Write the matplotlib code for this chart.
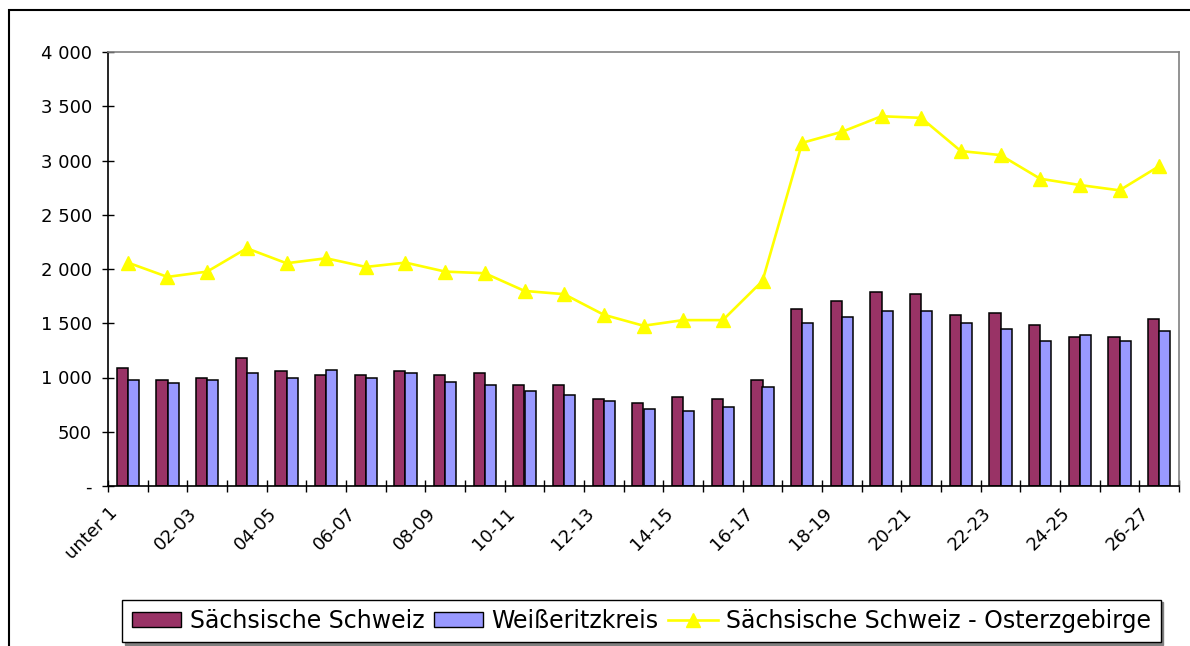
import matplotlib
matplotlib.use("Agg")
import matplotlib.pyplot as plt
import matplotlib.transforms as mtransforms
from matplotlib.patches import Rectangle
from matplotlib.lines import Line2D
import numpy as np

plt.rcParams['font.family'] = ['DejaVu Sans']

categories = ["unter 1", "01-02", "02-03", "03-04", "04-05", "05-06", "06-07",
              "07-08", "08-09", "09-10", "10-11", "11-12", "12-13", "13-14",
              "14-15", "15-16", "16-17", "17-18", "18-19", "19-20", "20-21",
              "21-22", "22-23", "23-24", "24-25", "25-26", "26-27"]

saechsische_schweiz = [1087, 980, 998, 1182, 1056, 1019, 1019, 1056, 1019, 1038,
                       927, 927, 802, 765, 817, 802, 980, 1631, 1702, 1791,
                       1773, 1573, 1594, 1484, 1377, 1377, 1536]
weisseritzkreis = [980, 946, 980, 1038, 998, 1072, 998, 1038, 961, 927,
                   872, 835, 784, 710, 695, 725, 909, 1502, 1558, 1610,
                   1610, 1502, 1447, 1337, 1396, 1337, 1429]
ss_osterzgebirge = [2059, 1927, 1976, 2191, 2053, 2099, 2019, 2059, 1976, 1961,
                    1798, 1768, 1578, 1477, 1529, 1529, 1890, 3163, 3264, 3408,
                    3393, 3087, 3050, 2832, 2774, 2725, 2948]

series_names = ["Sächsische Schweiz", "Weißeritzkreis",
                "Sächsische Schweiz - Osterzgebirge"]

y_ticks = [0, 500, 1000, 1500, 2000, 2500, 3000, 3500, 4000]
y_tick_labels = ["-", "500", "1 000", "1 500", "2 000", "2 500", "3 000",
                 "3 500", "4 000"]

C_MAROON = "#993366"
C_BLUE = "#9999FF"
C_YELLOW = "#FFFF00"

W, H = 1190, 646
fig = plt.figure(figsize=(W / 100, H / 100), dpi=100)
fig.patch.set_facecolor("white")

ax = fig.add_axes([108 / W, 1 - 486 / H, (1179 - 108) / W, (486 - 52) / H])

x = np.arange(len(categories))
bw = 0.285
ax.bar(x - bw / 2, saechsische_schweiz, width=bw, color=C_MAROON,
       edgecolor="black", linewidth=1.1, zorder=2)
ax.bar(x + bw / 2, weisseritzkreis, width=bw, color=C_BLUE,
       edgecolor="black", linewidth=1.1, zorder=2)
ax.plot(x, ss_osterzgebirge, color=C_YELLOW, linewidth=1.9, marker="^",
        markersize=9.5, markerfacecolor=C_YELLOW, markeredgecolor=C_YELLOW,
        zorder=3)

ax.set_xlim(-0.5, len(categories) - 0.5)
ax.set_ylim(0, 4000)

ax.set_yticks(y_ticks)
ax.set_yticklabels(y_tick_labels, fontsize=13)
ax.tick_params(axis="y", direction="inout", length=9, width=1.0, pad=7,
               colors="black")

label_idx = x[::2]
ax.set_xticks(label_idx)
ax.set_xticklabels([categories[i] for i in label_idx], fontsize=13,
                   rotation=45, ha="right", va="top", rotation_mode="anchor")
ax.tick_params(axis="x", which="major", length=0, pad=13)
ax.set_xticks(np.arange(-0.5, len(categories), 1.0), minor=True)
ax.tick_params(axis="x", which="minor", direction="inout", length=9, width=1.0)
offset = mtransforms.ScaledTranslation(-19 / 100, 0, fig.dpi_scale_trans)
for lbl in ax.get_xticklabels():
    lbl.set_transform(lbl.get_transform() + offset)

for side in ("left", "bottom"):
    ax.spines[side].set_color("black")
    ax.spines[side].set_linewidth(1.2)
for side in ("top", "right"):
    ax.spines[side].set_color("#808080")
    ax.spines[side].set_linewidth(1.2)

# outer chart frame
fig.patches.append(Rectangle((9 / W, -0.5), 2.0, 1.5 - 10 / H,
                             transform=fig.transFigure, fill=False,
                             edgecolor="black", linewidth=1.5))

handles = [
    Rectangle((0, 0), 1, 1, facecolor=C_MAROON, edgecolor="black", linewidth=1.0),
    Rectangle((0, 0), 1, 1, facecolor=C_BLUE, edgecolor="black", linewidth=1.0),
    Line2D([], [], color=C_YELLOW, linewidth=1.9, marker="^", markersize=9.5,
           markerfacecolor=C_YELLOW, markeredgecolor=C_YELLOW),
]
leg = fig.legend(handles, series_names, loc="center",
                 bbox_to_anchor=(641.5 / W, 1 - 621 / H), ncol=3,
                 fontsize=17, frameon=True, fancybox=False, framealpha=1,
                 edgecolor="black", handlelength=2.1, handleheight=0.6,
                 handletextpad=0.35, columnspacing=0.4, borderpad=0.4,
                 shadow={"ox": 2, "oy": -2, "color": "#808080", "alpha": 1})
leg.get_frame().set_linewidth(1.0)

fig.savefig("out.png", dpi=100, facecolor="white")
